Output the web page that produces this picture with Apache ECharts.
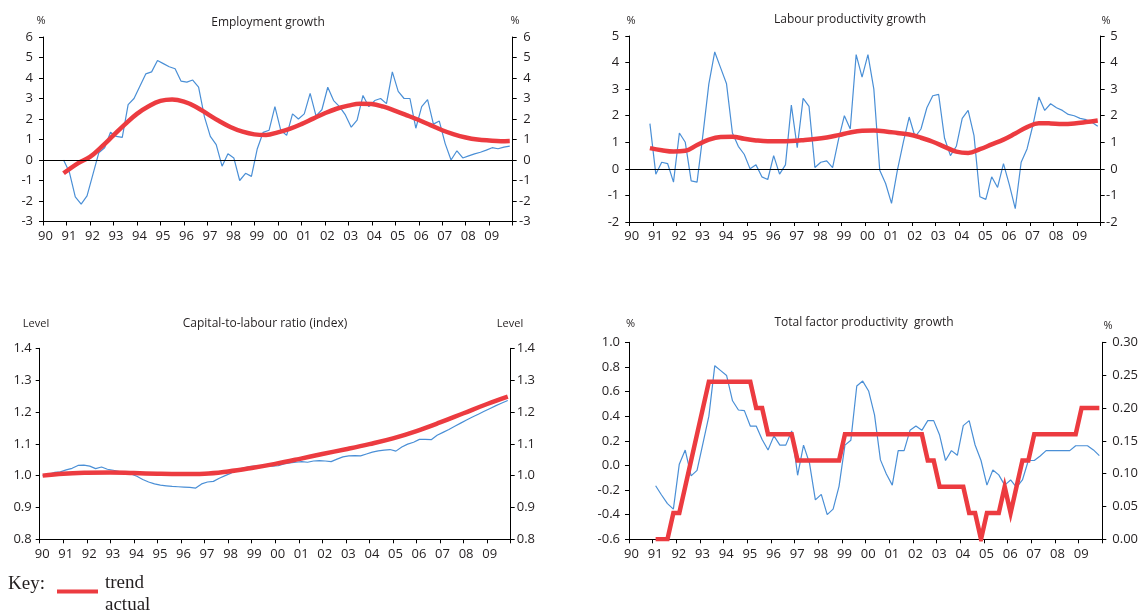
<!DOCTYPE html>
<html>
<head>
<meta charset="utf-8">
<script src="https://cdn.jsdelivr.net/npm/echarts/dist/echarts.min.js"></script>
<style>
  html, body { margin: 0; padding: 0; background: #fff; }
  #chart { width: 1146px; height: 616px; }
</style>
</head>
<body>
<div id="chart"></div>
<script>
// Year tick labels (1990 .. 2009)
const yearLabels = ['90','91','92','93','94','95','96','97','98','99',
                    '00','01','02','03','04','05','06','07','08','09'];

// Employment growth, % (quarterly, from 1990 Q4)
const empActual = [0.0,
  -0.6, -1.8, -2.15, -1.75,
  -0.7, 0.35, 0.6, 1.35,
  1.15, 1.1, 2.7, 3.0,
  3.6, 4.2, 4.3, 4.85,
  4.7, 4.55, 4.45, 3.85,
  3.8, 3.9, 3.55, 2.1,
  1.15, 0.75, -0.3, 0.3,
  0.1, -1.0, -0.65, -0.8,
  0.55, 1.35, 1.45, 2.6,
  1.45, 1.2, 2.25, 2.0,
  2.25, 3.25, 2.15, 2.45,
  3.55, 2.9, 2.6, 2.2,
  1.6, 1.95, 3.15, 2.6,
  2.9, 3.0, 2.75, 4.3,
  3.35, 3.0, 3.0, 1.55,
  2.6, 2.95, 1.75, 1.9,
  0.8, 0.0, 0.45, 0.1,
  0.2, 0.3, 0.38, 0.48,
  0.6, 0.55, 0.63, 0.68];
const empTrendAt = [1990.875, 1991.5, 1992, 1992.5, 1993, 1993.5, 1994, 1994.5, 1995, 1995.5,
                    1996, 1996.5, 1997, 1997.5, 1998, 1998.5, 1999, 1999.5, 2000, 2000.5,
                    2001, 2001.5, 2002, 2002.5, 2003, 2003.5, 2004, 2004.5, 2005, 2005.5,
                    2006, 2006.5, 2007, 2007.5, 2008, 2008.5, 2009, 2009.5, 2009.875];
const empTrend   = [-0.65, -0.15, 0.15, 0.65, 1.2, 1.75, 2.25, 2.62, 2.88, 2.95,
                    2.85, 2.6, 2.25, 1.9, 1.6, 1.38, 1.25, 1.22, 1.35, 1.52,
                    1.75, 2.02, 2.28, 2.5, 2.65, 2.75, 2.73, 2.6, 2.4, 2.18,
                    1.95, 1.7, 1.45, 1.25, 1.1, 1.0, 0.95, 0.92, 0.93];

// Labour productivity growth, % (quarterly, from 1990 Q4)
const lpActual = [1.7,
  -0.2, 0.25, 0.2, -0.5,
  1.35, 1.0, -0.45, -0.5,
  1.3, 3.2, 4.4, 3.8,
  3.2, 1.35, 0.85, 0.55,
  0.0, 0.15, -0.3, -0.4,
  0.5, -0.2, 0.15, 2.4,
  0.8, 2.65, 2.35, 0.05,
  0.25, 0.3, 0.05, 1.1,
  2.0, 1.5, 4.3, 3.45,
  4.3, 3.0, -0.05, -0.55,
  -1.3, -0.05, 1.0, 1.95,
  1.2, 1.5, 2.3, 2.75,
  2.8, 1.15, 0.5, 0.85,
  1.9, 2.2, 1.25, -1.05,
  -1.15, -0.3, -0.7, 0.2,
  -0.6, -1.5, 0.25, 0.75,
  1.65, 2.7, 2.2, 2.45,
  2.3, 2.2, 2.05, 2.0,
  1.9, 1.85, 1.75, 1.6];
// half-yearly trend readings, from 1990.875
const lpTrendStart = 1990.875, lpTrendStep = 0.5;
const lpTrend = [0.78, 0.70, 0.65, 0.68, 0.90, 1.10, 1.20, 1.21, 1.13, 1.07,
                 1.04, 1.04, 1.05, 1.08, 1.12, 1.18, 1.27, 1.37, 1.43, 1.44,
                 1.41, 1.35, 1.29, 1.17, 1.02, 0.83, 0.65, 0.60, 0.74, 0.92,
                 1.10, 1.33, 1.57, 1.72, 1.71, 1.69, 1.71, 1.76, 1.82];

// Capital-to-labour ratio, index level (quarterly, from 1990 Q1)
const klActual = [
  1.000, 1.004, 1.010, 1.012,
  1.018, 1.023, 1.032, 1.033,
  1.030, 1.022, 1.027, 1.020,
  1.017, 1.013, 1.010, 1.005,
  0.998, 0.988, 0.980, 0.974,
  0.970, 0.968, 0.966, 0.965,
  0.964, 0.963, 0.961, 0.974,
  0.980, 0.982, 0.992, 1.000,
  1.008, 1.018, 1.024, 1.028,
  1.030, 1.031, 1.032, 1.030,
  1.031, 1.037, 1.040, 1.042,
  1.044, 1.042, 1.046, 1.047,
  1.046, 1.044, 1.052, 1.059,
  1.062, 1.063, 1.062, 1.068,
  1.074, 1.078, 1.080, 1.082,
  1.077, 1.090, 1.099, 1.105,
  1.114, 1.114, 1.113, 1.127,
  1.136, 1.145, 1.155, 1.165,
  1.175, 1.184, 1.193, 1.202,
  1.211, 1.220, 1.228, 1.236];
const klTrendAt = [1990.125, 1991, 1992, 1993, 1994, 1995, 1996, 1997, 1998, 1999, 2000,
                   2001, 2002, 2003, 2004, 2005, 2006, 2007, 2008, 2009, 2009.875];
const klTrend   = [1.000, 1.006, 1.009, 1.010, 1.008, 1.006, 1.005, 1.006, 1.013, 1.024, 1.037,
                   1.052, 1.068, 1.083, 1.099, 1.117, 1.140, 1.167, 1.196, 1.225, 1.248];

// Total factor productivity growth (quarterly, from 1991 Q1)
// actual on the left scale, trend on the right scale
const tfpActual = [
  -0.165, -0.24, -0.31, -0.355,
  0.01, 0.125, -0.085, -0.04,
  0.18, 0.40, 0.81, 0.77,
  0.73, 0.525, 0.45, 0.445,
  0.32, 0.32, 0.21, 0.125,
  0.24, 0.165, 0.165, 0.28,
  -0.08, 0.165, 0.02, -0.28,
  -0.235, -0.40, -0.355, -0.17,
  0.165, 0.205, 0.645, 0.685,
  0.605, 0.41, 0.045, -0.07,
  -0.16, 0.12, 0.12, 0.285,
  0.32, 0.285, 0.364, 0.364,
  0.247, 0.04, 0.12, 0.082,
  0.323, 0.364, 0.166, 0.04,
  -0.16, -0.037, -0.077, -0.16,
  -0.118, -0.178, -0.118, 0.04,
  0.04, 0.077, 0.12, 0.12,
  0.12, 0.12, 0.12, 0.16,
  0.16, 0.16, 0.126, 0.08];
const tfpTrend = [
  0.00, 0.00, 0.00, 0.04,
  0.04, 0.08, 0.12, 0.16,
  0.20, 0.24, 0.24, 0.24,
  0.24, 0.24, 0.24, 0.24,
  0.24, 0.20, 0.20, 0.16,
  0.16, 0.16, 0.16, 0.16,
  0.12, 0.12, 0.12, 0.12,
  0.12, 0.12, 0.12, 0.12,
  0.16, 0.16, 0.16, 0.16,
  0.16, 0.16, 0.16, 0.16,
  0.16, 0.16, 0.16, 0.16,
  0.16, 0.16, 0.12, 0.12,
  0.08, 0.08, 0.08, 0.08,
  0.08, 0.04, 0.04, 0.00,
  0.04, 0.04, 0.04, 0.08,
  0.04, 0.08, 0.12, 0.12,
  0.16, 0.16, 0.16, 0.16,
  0.16, 0.16, 0.16, 0.16,
  0.20, 0.20, 0.20, 0.20];

// ---- helpers ----
// place quarterly observations at the middle of each quarter
function quarterly(year, quarter, values) {
  return values.map((v, i) => [year + (quarter - 0.5 + i) / 4, v]);
}
function pairs(at, values) { return values.map((v, i) => [at[i], v]); }
function stepped(start, step, values) { return values.map((v, i) => [start + i * step, v]); }

const FONT = '"Open Sans", "Noto Sans", sans-serif';
const SERIF = '"Liberation Serif", "DejaVu Serif", serif';
const INK = '#231f20';
const BLUE = '#4a8fd6';
const RED = '#ec3b40';

const grids = [
  { left: 43,    top: 37,    width: 469.7, height: 184.5 },
  { left: 629.3, top: 36,    width: 471.4, height: 186 },
  { left: 39.7,  top: 348.3, width: 471,   height: 191 },
  { left: 629,   top: 342.3, width: 473.3, height: 197 }
];

function xAxis(gi) {
  return {
    type: 'value', gridIndex: gi, min: 1990, max: 2010, interval: 1,
    axisLine: { onZero: false, lineStyle: { color: '#000', width: 1 } },
    axisTick: { length: 4, lineStyle: { color: '#000' } },
    axisLabel: {
      color: INK, fontSize: 13, fontFamily: FONT, margin: 8, padding: [0, 0, 0, 5],
      formatter: v => yearLabels[Math.round(v) - 1990] || ''
    },
    splitLine: { show: false }
  };
}
function yAxis(gi, pos, min, max, interval, digits, label) {
  return {
    type: 'value', gridIndex: gi, position: pos, min, max, interval,
    axisLine: { show: true, onZero: false, lineStyle: { color: '#000', width: 1 } },
    axisTick: { show: true, length: 4, lineStyle: { color: '#000' } },
    axisLabel: Object.assign({
      color: INK, fontSize: 13, fontFamily: FONT,
      formatter: v => v.toFixed(digits)
    }, label),
    splitLine: { show: false }
  };
}

const zeroLine = {
  silent: true, symbol: 'none', label: { show: false },
  lineStyle: { color: '#000', width: 1, type: 'solid' },
  data: [{ yAxis: 0 }], animation: false
};

function actualSeries(xi, yi, data, withZero) {
  const s = {
    type: 'line', xAxisIndex: xi, yAxisIndex: yi, data, symbol: 'none',
    lineStyle: { color: BLUE, width: 1.2 }, z: 2
  };
  if (withZero) s.markLine = zeroLine;
  return s;
}
function trendSeries(xi, yi, data, smooth) {
  return {
    type: 'line', xAxisIndex: xi, yAxisIndex: yi, data, symbol: 'none', smooth,
    lineStyle: { color: RED, width: 4.5, join: 'miter' }, z: 3
  };
}

function txt(x, y, text, size, align, family) {
  return {
    type: 'text', x, y, silent: true,
    style: { text, fill: INK, font: size + 'px ' + (family || FONT), align: align || 'center', verticalAlign: 'middle' }
  };
}

const option = {
  animation: false,
  backgroundColor: '#fff',
  grid: grids,
  xAxis: [xAxis(0), xAxis(1), xAxis(2), xAxis(3)],
  yAxis: [
    yAxis(0, 'left', -3, 6, 1, 0, { margin: 10 }),
    yAxis(0, 'right', -3, 6, 1, 0, { margin: 18, align: 'right' }),
    yAxis(1, 'left', -2, 5, 1, 0, { margin: 10 }),
    yAxis(1, 'right', -2, 5, 1, 0, { margin: 17, align: 'right' }),
    yAxis(2, 'left', 0.8, 1.4, 0.1, 1, { margin: 8 }),
    yAxis(2, 'right', 0.8, 1.4, 0.1, 1, { margin: 6 }),
    yAxis(3, 'left', -0.6, 1.0, 0.2, 1, { margin: 9 }),
    yAxis(3, 'right', 0, 0.3, 0.05, 2, { margin: 10 })
  ],
  series: [
    actualSeries(0, 0, quarterly(1990, 4, empActual), true),
    trendSeries(0, 0, pairs(empTrendAt, empTrend), 0.4),
    actualSeries(1, 2, quarterly(1990, 4, lpActual), true),
    trendSeries(1, 2, stepped(lpTrendStart, lpTrendStep, lpTrend), 0.4),
    actualSeries(2, 4, quarterly(1990, 1, klActual), false),
    trendSeries(2, 4, pairs(klTrendAt, klTrend), 0.4),
    actualSeries(3, 6, quarterly(1991, 1, tfpActual), false),
    trendSeries(3, 7, quarterly(1991, 1, tfpTrend), false)
  ],
  graphic: [
    txt(268, 23, 'Employment growth', 12),
    txt(41, 21, '%', 11), txt(515, 21, '%', 11),
    txt(850, 20, 'Labour productivity growth', 12),
    txt(631, 21, '%', 11), txt(1106, 21, '%', 11),
    txt(265, 324, 'Capital-to-labour ratio (index)', 12),
    txt(36, 324, 'Level', 11), txt(510, 324, 'Level', 11),
    txt(864, 323, 'Total factor productivity  growth', 12),
    txt(630.5, 324, '%', 11), txt(1108, 326, '%', 11),
    // key
    txt(8, 584, 'Key:', 19, 'left', SERIF),
    { type: 'line', silent: true, shape: { x1: 57, y1: 591.5, x2: 98, y2: 591.5 },
      style: { stroke: RED, lineWidth: 4 } },
    txt(105, 583, 'trend', 19, 'left', SERIF),
    txt(105, 605, 'actual', 19, 'left', SERIF)
  ]
};

const chart = echarts.init(document.getElementById('chart'), null, { renderer: 'canvas' });
chart.setOption(option);
</script>
</body>
</html>
